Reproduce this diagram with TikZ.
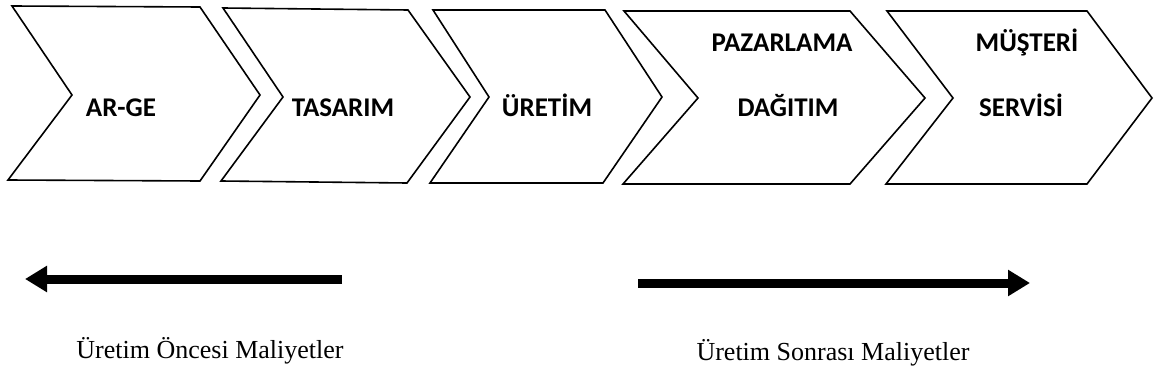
\documentclass[tikz,border=0pt]{standalone}
\usepackage{fontspec}
\setmainfont{Liberation Serif}
\newfontfamily\calib{Carlito}
\usetikzlibrary{arrows.meta}
\tikzset{
  chev/.style={draw=black, line width=1.6pt, line join=miter},
  lab/.style={font=\calib\bfseries\fontsize{27}{30}\selectfont, inner sep=0pt, anchor=base},
  cost/.style={font=\fontsize{26}{30}\selectfont, inner sep=0pt, anchor=base},
  bigarrow/.style={line width=9pt, -{Triangle[length=22pt,width=25pt]}}
}
\begin{document}
\begin{tikzpicture}[x=1pt,y=-1pt]
\useasboundingbox (0,0) rectangle (1155,385);
% chevrons
\draw[chev] (12,6) -- (200,7) -- (260,95) -- (200,181) -- (8,180) -- (72,95) -- cycle;
\draw[chev] (223,8) -- (408,10) -- (470,97) -- (407,183) -- (221,181) -- (283,97) -- cycle;
\draw[chev] (433,10) -- (605,10) -- (662,97) -- (603,183) -- (430,183) -- (489,97) -- cycle;
\draw[chev] (624,11) -- (850,11) -- (925,98) -- (850,184) -- (623,184) -- (698,98) -- cycle;
\draw[chev] (887,11) -- (1087,11) -- (1152,98) -- (1087,184) -- (886,184) -- (953,98) -- cycle;
% labels
\node[lab] (arge) at (121,117) {AR-GE};
\node[lab] (tas) at (343,117) {TASARIM};
\node[lab] (ure) at (547,117) {ÜRETİM};
\node[lab] (paz) at (782,52) {PAZARLAMA};
\node[lab] (dag) at (788,117) {DAĞITIM};
\node[lab] (mus) at (1027,52) {MÜŞTERİ};
\node[lab] (ser) at (1021,117) {SERVİSİ};
% arrows
\coordinate (la) at (342,279);
\coordinate (lb) at (25,279);
\coordinate (ra) at (638,283);
\coordinate (rb) at (1030,283);
\draw[bigarrow] (la) -- (lb);
\draw[bigarrow] (ra) -- (rb);
% cost labels
\node[cost] (pre) at (210,358) {Üretim Öncesi Maliyetler};
\node[cost] (post) at (833,360) {Üretim Sonrası Maliyetler};
\end{tikzpicture}
\end{document}
